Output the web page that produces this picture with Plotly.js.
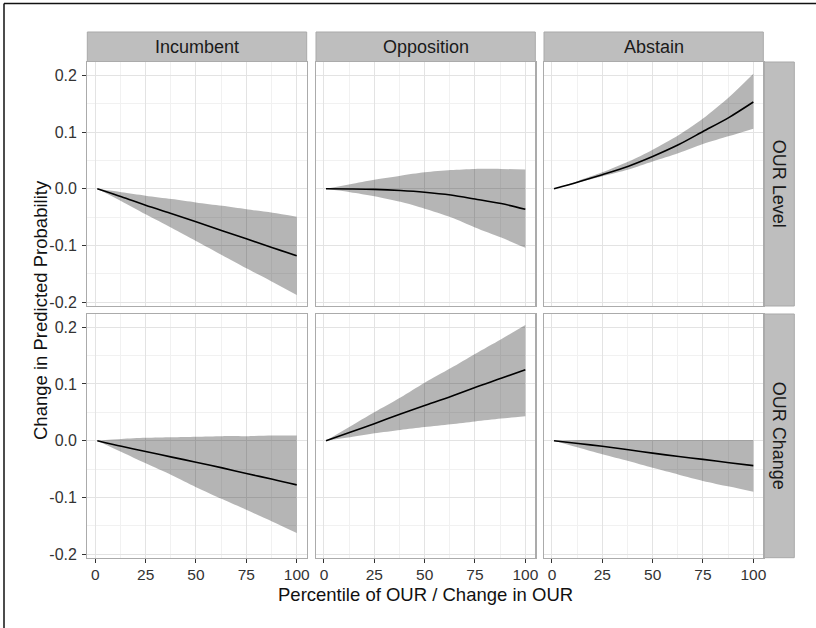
<!DOCTYPE html>
<html>
<head>
<meta charset="utf-8">
<script src="https://cdn.plot.ly/plotly-3.0.1.min.js"></script>
<style>html,body{margin:0;padding:0;background:#fff;}#chart{width:816px;height:628px;}</style>
</head>
<body>
<div id="chart"></div>
<script>
// ---- data ----
const columns = ["Incumbent", "Opposition", "Abstain"];
const rows = ["OUR Level", "OUR Change"];
const pct = [1, 13, 25, 38, 50, 63, 75, 88, 100];

// OUR Level
const incLevelMean  = [0, -0.014, -0.029, -0.044, -0.058, -0.074, -0.088, -0.104, -0.118];
const incLevelUpper = [0, -0.006, -0.012, -0.018, -0.024, -0.030, -0.036, -0.042, -0.049];
const incLevelLower = [0, -0.022, -0.045, -0.069, -0.092, -0.117, -0.140, -0.164, -0.187];

const oppLevelMean  = [0, -0.0003, -0.001, -0.003, -0.006, -0.011, -0.018, -0.026, -0.036];
const oppLevelUpper = [0, 0.008, 0.016, 0.023, 0.029, 0.033, 0.035, 0.035, 0.034];
const oppLevelLower = [0, -0.006, -0.013, -0.023, -0.035, -0.050, -0.068, -0.086, -0.104];

const absLevelMean  = [0, 0.012, 0.025, 0.040, 0.057, 0.078, 0.101, 0.126, 0.153];
const absLevelUpper = [0, 0.014, 0.029, 0.048, 0.069, 0.095, 0.124, 0.162, 0.203];
const absLevelLower = [0, 0.011, 0.022, 0.034, 0.048, 0.063, 0.079, 0.093, 0.106];

// OUR Change
const incChangeMean  = [0, -0.010, -0.019, -0.029, -0.038, -0.048, -0.058, -0.068, -0.078];
const incChangeUpper = [0, 0.003, 0.005, 0.006, 0.007, 0.008, 0.008, 0.009, 0.009];
const incChangeLower = [0, -0.020, -0.040, -0.061, -0.082, -0.103, -0.122, -0.143, -0.163];

const oppChangeMean  = [0, 0.015, 0.030, 0.047, 0.062, 0.078, 0.094, 0.110, 0.125];
const oppChangeUpper = [0, 0.025, 0.050, 0.076, 0.102, 0.128, 0.153, 0.179, 0.204];
const oppChangeLower = [0, 0.006, 0.013, 0.019, 0.024, 0.029, 0.034, 0.039, 0.043];

const absChangeMean  = [0, -0.005, -0.010, -0.016, -0.022, -0.028, -0.033, -0.039, -0.044];
const absChangeUpper = [0, 0.001, 0.001, 0.001, 0.001, 0.001, 0.001, 0.001, 0.001];
const absChangeLower = [0, -0.012, -0.024, -0.036, -0.048, -0.060, -0.071, -0.081, -0.090];

const xTickVals = [0, 25, 50, 75, 100];
const xTickText = ["0", "25", "50", "75", "100"];
const yTickVals = [-0.2, -0.1, 0.0, 0.1, 0.2];
const yTickText = ["-0.2", "-0.1", "0.0", "0.1", "0.2"];

// ---- layout geometry (pixels -> paper) ----
const W = 816, H = 628;
const colPx = [[87.3, 306.7], [316, 535.3], [544, 763.3]];
const rowPx = [[62, 306], [314, 557.7]];
const px = v => v / W;
const py = v => 1 - v / H;

const panels = [
  [ [incLevelMean, incLevelUpper, incLevelLower], [oppLevelMean, oppLevelUpper, oppLevelLower], [absLevelMean, absLevelUpper, absLevelLower] ],
  [ [incChangeMean, incChangeUpper, incChangeLower], [oppChangeMean, oppChangeUpper, oppChangeLower], [absChangeMean, absChangeUpper, absChangeLower] ]
];

const traces = [];
const layout = {
  width: W, height: H,
  margin: {l: 0, r: 0, t: 0, b: 0},
  paper_bgcolor: "#ffffff",
  plot_bgcolor: "#ffffff",
  showlegend: false,
  font: {family: "Liberation Sans, Arial, sans-serif", color: "#333333"},
  shapes: [], annotations: []
};

const grid = "#e3e3e3", minorGrid = "#f1f1f1", border = "#ababab";
let n = 0;
for (let r = 0; r < 2; r++) {
  for (let c = 0; c < 3; c++) {
    n++;
    const xa = n === 1 ? "x" : "x" + n;
    const ya = n === 1 ? "y" : "y" + n;
    const [mean, upper, lower] = panels[r][c];
    traces.push({
      x: pct, y: lower, xaxis: xa, yaxis: ya, type: "scatter", mode: "lines",
      line: {width: 0, color: "rgba(0,0,0,0)", shape: "spline", smoothing: 0.8}, hoverinfo: "skip"
    });
    traces.push({
      x: pct, y: upper, xaxis: xa, yaxis: ya, type: "scatter", mode: "lines",
      fill: "tonexty", fillcolor: "rgba(0,0,0,0.29)",
      line: {width: 0, color: "rgba(0,0,0,0)", shape: "spline", smoothing: 0.8}, hoverinfo: "skip"
    });
    traces.push({
      x: pct, y: mean, xaxis: xa, yaxis: ya, type: "scatter", mode: "lines",
      line: {color: "#000000", width: 1.6, shape: "spline", smoothing: 0.8}
    });
    const xKey = n === 1 ? "xaxis" : "xaxis" + n;
    const yKey = n === 1 ? "yaxis" : "yaxis" + n;
    layout[xKey] = {
      domain: [px(colPx[c][0]), px(colPx[c][1])],
      anchor: ya, range: [-3.95, 104.95],
      tickmode: "array", tickvals: xTickVals, ticktext: xTickText,
      showticklabels: r === 1, ticks: r === 1 ? "outside" : "",
      ticklen: 4, tickwidth: 1, tickcolor: "#333333", ticklabelstandoff: -2,
      tickfont: {size: 15.5, color: "#333333"},
      showgrid: true, gridcolor: grid, gridwidth: 1,
      minor: {tickmode: "array", tickvals: [12.5, 37.5, 62.5, 87.5], showgrid: true, gridcolor: minorGrid, gridwidth: 1, ticks: ""},
      zeroline: false, showline: true, mirror: true, linecolor: border, linewidth: 1.2
    };
    layout[yKey] = {
      domain: [py(rowPx[r][1]), py(rowPx[r][0])],
      anchor: xa, range: [-0.2065, 0.2235],
      tickmode: "array", tickvals: yTickVals, ticktext: yTickText,
      showticklabels: c === 0, ticks: c === 0 ? "outside" : "",
      ticklen: 4, tickwidth: 1, tickcolor: "#333333", ticklabelstandoff: 2,
      tickfont: {size: 16, color: "#333333"},
      showgrid: true, gridcolor: grid, gridwidth: 1,
      minor: {tickmode: "array", tickvals: [-0.15, -0.05, 0.05, 0.15], showgrid: true, gridcolor: minorGrid, gridwidth: 1, ticks: ""},
      zeroline: false, showline: true, mirror: true, linecolor: border, linewidth: 1.2
    };
  }
}

// strips
const stripFill = "#bebebe", stripLine = "#a9a9a9";
for (let c = 0; c < 3; c++) {
  layout.shapes.push({type: "rect", xref: "paper", yref: "paper",
    x0: px(colPx[c][0]), x1: px(colPx[c][1]), y0: py(61.5), y1: py(32),
    fillcolor: stripFill, line: {color: stripLine, width: 1}, layer: "below"});
  layout.annotations.push({xref: "paper", yref: "paper",
    x: px((colPx[c][0] + colPx[c][1]) / 2), y: py(47), text: columns[c],
    showarrow: false, xanchor: "center", yanchor: "middle",
    font: {size: 18, color: "#1a1a1a"}});
}
for (let r = 0; r < 2; r++) {
  layout.shapes.push({type: "rect", xref: "paper", yref: "paper",
    x0: px(764), x1: px(794.3), y0: py(rowPx[r][1]), y1: py(rowPx[r][0]),
    fillcolor: stripFill, line: {color: stripLine, width: 1}, layer: "below"});
  layout.annotations.push({xref: "paper", yref: "paper",
    x: px(779.2), y: py((rowPx[r][0] + rowPx[r][1]) / 2), text: rows[r],
    showarrow: false, textangle: 90, xanchor: "center", yanchor: "middle",
    font: {size: 18, color: "#1a1a1a"}});
}

// axis titles
layout.annotations.push({xref: "paper", yref: "paper", x: px(425), y: py(594),
  text: "Percentile of OUR / Change in OUR", showarrow: false,
  xanchor: "center", yanchor: "middle", font: {size: 18.5, color: "#111111"}});
layout.annotations.push({xref: "paper", yref: "paper", x: px(40), y: py(310),
  text: "Change in Predicted Probability", showarrow: false, textangle: -90,
  xanchor: "center", yanchor: "middle", font: {size: 18.5, color: "#111111"}});

// outer frame (top and left edges visible)
layout.shapes.push({type: "line", xref: "paper", yref: "paper", x0: px(4), x1: 1, y0: py(3.5), y1: py(3.5), line: {color: "#111111", width: 1.5}});
layout.shapes.push({type: "line", xref: "paper", yref: "paper", x0: px(4), x1: px(4), y0: 0, y1: py(3.5), line: {color: "#111111", width: 1.5}});

Plotly.newPlot("chart", traces, layout, {displayModeBar: false, staticPlot: true});
</script>
</body>
</html>
